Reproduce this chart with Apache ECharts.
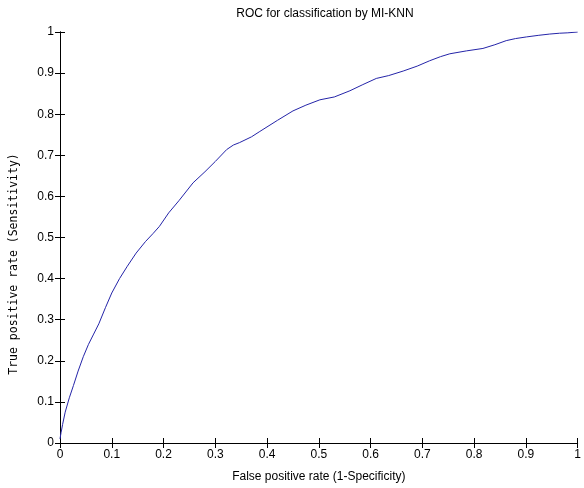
<!DOCTYPE html>
<html>
<head>
<meta charset="utf-8">
<script src="https://cdn.jsdelivr.net/npm/echarts@6/dist/echarts.min.js"></script>
<style>html,body{margin:0;padding:0;background:#fff}#c{width:584px;height:488px}</style>
</head>
<body>
<div id="c"></div>
<script>
const fpr = [0,0.002,0.005,0.01,0.018,0.026,0.035,0.045,0.055,0.065,0.075,0.088,0.1,0.115,0.13,0.147,0.165,0.18,0.192,0.21,0.23,0.257,0.28,0.3,0.322,0.335,0.347,0.37,0.386,0.42,0.45,0.475,0.502,0.53,0.56,0.585,0.611,0.635,0.663,0.69,0.714,0.735,0.753,0.785,0.817,0.84,0.862,0.88,0.901,0.925,0.946,0.965,0.981,1.0];
const tpr = [0.01,0.025,0.045,0.075,0.11,0.14,0.175,0.21,0.24,0.265,0.29,0.33,0.365,0.4,0.43,0.462,0.49,0.51,0.527,0.56,0.59,0.633,0.66,0.685,0.714,0.725,0.731,0.745,0.758,0.785,0.808,0.822,0.835,0.842,0.857,0.872,0.887,0.894,0.905,0.917,0.93,0.94,0.947,0.954,0.96,0.969,0.979,0.984,0.988,0.992,0.995,0.997,0.998,1.0];
const tickValues = [0,0.1,0.2,0.3,0.4,0.5,0.6,0.7,0.8,0.9,1];
const titleText = 'ROC for classification by MI-KNN';
const xName = 'False positive rate (1-Specificity)';
const yName = 'True positive rate (Sensitivity)';

const FONT = 'Liberation Sans, Arial, sans-serif';
const fmt = v => (Math.round(v*10)/10).toString();
function axisBase(pos, showLabel){
  return {
    type:'value', min:0, max:1, interval:0.1, position:pos,
    axisLine:{show:true, lineStyle:{color:'#000', width:1}},
    axisTick:{show:true, inside:true, length:5, lineStyle:{color:'#000'}},
    splitLine:{show:false},
    axisLabel:{show:showLabel, color:'#000', fontFamily:FONT, fontSize:12, margin:6, formatter:fmt}
  };
}
const chart = echarts.init(document.getElementById('c'), null, {renderer:'canvas'});
const data = fpr.map((x,i)=>[x,tpr[i]]);
chart.setOption({
  animation:false,
  backgroundColor:'#fff',
  title:{text:titleText, left:320, top:3, textAlign:'center',
    textStyle:{fontFamily:FONT, fontSize:12, fontWeight:'normal', color:'#000'}},
  grid:{left:60, right:3, top:32, bottom:44},
  xAxis:[
    Object.assign(axisBase('bottom', true), {name:xName, nameLocation:'middle', nameGap:28,
      nameTextStyle:{fontFamily:FONT, fontSize:12, color:'#000'}}),
    axisBase('top', false)
  ],
  yAxis:[
    axisBase('left', true),
    axisBase('right', false)
  ],
  graphic:[{type:'text', x:14, y:264, rotation:Math.PI/2,
    style:{text:yName, fontFamily:'DejaVu Sans Mono, monospace', fontSize:11.5, fill:'#000',
      align:'center', verticalAlign:'middle'}}],
  series:[{type:'line', data:data, showSymbol:false, symbol:'none',
    lineStyle:{color:'#2424a8', width:1}, xAxisIndex:0, yAxisIndex:0}]
});
</script>
</body>
</html>
